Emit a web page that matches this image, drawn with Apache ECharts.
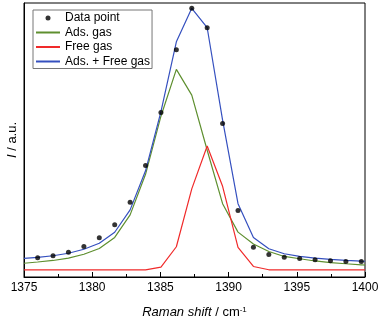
<!DOCTYPE html>
<html>
<head>
<meta charset="utf-8">
<script src="https://cdn.jsdelivr.net/npm/echarts@6/dist/echarts.min.js"></script>
<style>
  html, body { margin: 0; padding: 0; background: #fff; }
  #chart { width: 380px; height: 318px; }
</style>
</head>
<body>
<div id="chart"></div>
<script>
// measured points (Raman shift / cm-1)
const pointShift = [1376.0, 1377.13, 1378.26, 1379.39, 1380.52, 1381.65, 1382.78, 1383.91,
  1385.04, 1386.17, 1387.30, 1388.43, 1389.56, 1390.69, 1391.82, 1392.95, 1394.08,
  1395.21, 1396.34, 1397.47, 1398.60, 1399.73];
const pointIntensity = [19.2, 21.2, 24.8, 30.5, 39.2, 52.2, 74.5, 111.2, 164.2, 226.8, 268.2,
  248.8, 153.2, 66.5, 29.8, 22.5, 19.8, 18.5, 17.2, 16.2, 15.5, 15.5];

// fitted curves
const fitShift = [1375, 1376.0, 1377.13, 1378.26, 1379.39, 1380.52, 1381.65, 1382.78, 1383.91,
  1385.04, 1386.17, 1387.30, 1388.43, 1389.56, 1390.69, 1391.82, 1392.95, 1394.08,
  1395.21, 1396.34, 1397.47, 1398.60, 1399.73, 1400];
const adsGas = [13.7, 15, 16.5, 18.8, 22.7, 28.5, 39.5, 62, 102.5, 160.5, 207.2, 181.5, 126.5,
  73.2, 44.8, 33, 25.5, 20.5, 18.2, 16, 14.3, 13.2, 12.2, 11.8];
const freeGas = [7.2, 7.2, 7.2, 7.2, 7.2, 7.2, 7.2, 7.2, 7.2, 9.8, 30.2, 88, 130.8, 90.5, 29.5,
  10.5, 7.2, 7.2, 7.2, 7.2, 7.2, 7.2, 7.2, 7.2];
const adsFreeGas = [18.6, 19.5, 21.2, 23.7, 27.7, 33.7, 44.7, 67, 106, 165, 234.8, 268.2, 248.8,
  156.5, 73.2, 39.5, 28.2, 23.2, 20.5, 18.8, 17.5, 16.5, 15.8, 15.7];

const xTicks = [1375, 1380, 1385, 1390, 1395, 1400];

const pair = (xs, ys) => xs.map((x, i) => [x, ys[i]]);
const font = "'Liberation Sans', Arial, sans-serif";

const lineSeries = (name, color, ys) => ({
  name: name,
  type: "line",
  data: pair(fitShift, ys),
  symbol: "none",
  lineStyle: { color: color, width: 1.2 },
  itemStyle: { color: color },
  animation: false,
});

// legend entries for the fit lines: line only, no marker
const lineLegend = (name) => ({ name: name, itemStyle: { opacity: 0 } });

const chart = echarts.init(document.getElementById("chart"));
chart.setOption({
  animation: false,
  textStyle: { fontFamily: font },
  grid: {
    left: 24, right: 15, top: 3, bottom: 41,
    outerBoundsMode: "none",
    show: true, borderColor: "#000", borderWidth: 1,
  },
  legend: {
    orient: "vertical",
    left: 33, top: 10,
    padding: [1, 2, 0, 2],
    borderColor: "#777", borderWidth: 1,
    backgroundColor: "#fff",
    itemWidth: 24, itemHeight: 5, itemGap: 0.5,
    textStyle: { fontSize: 12, color: "#000", lineHeight: 14, fontFamily: font },
    data: [
      { name: "Data point", icon: "circle" },
      lineLegend("Ads. gas"),
      lineLegend("Free gas"),
      lineLegend("Ads. + Free gas"),
    ],
  },
  xAxis: {
    type: "value",
    min: 1375, max: 1400, interval: 5,
    name: "{i|Raman shift} / cm{sup|-1}",
    nameLocation: "middle",
    nameGap: 29,
    nameTextStyle: {
      fontSize: 13, color: "#000", fontFamily: font,
      rich: {
        i: { fontStyle: "italic", fontSize: 13, fontFamily: font },
        sup: { fontSize: 8, verticalAlign: "top", fontFamily: font },
      },
    },
    axisLine: { lineStyle: { color: "#000", width: 1 } },
    axisTick: { inside: true, length: 5, lineStyle: { color: "#000" } },
    minorTick: { show: true, splitNumber: 2, length: 3, lineStyle: { color: "#000" } },
    axisLabel: {
      margin: 5, fontSize: 12, color: "#000", fontFamily: font,
      formatter: (v) => (xTicks.indexOf(v) >= 0 ? String(v) : ""),
    },
    splitLine: { show: false },
  },
  yAxis: {
    type: "value",
    min: 0, max: 273.5,
    name: "{i|I} / a.u.",
    nameLocation: "middle",
    nameGap: 5,
    nameTextStyle: {
      fontSize: 13, color: "#000", fontFamily: font,
      rich: { i: { fontStyle: "italic", fontSize: 13, fontFamily: font } },
    },
    axisLine: { show: true, lineStyle: { color: "#000", width: 1 } },
    axisTick: { show: false },
    axisLabel: { show: false },
    splitLine: { show: false },
  },
  series: [
    lineSeries("Ads. gas", "#5e8f2f", adsGas),
    lineSeries("Free gas", "#f02a2a", freeGas),
    lineSeries("Ads. + Free gas", "#3550bf", adsFreeGas),
    {
      name: "Data point",
      type: "scatter",
      data: pair(pointShift, pointIntensity),
      symbol: "circle",
      symbolSize: 5,
      itemStyle: { color: "#000" },
      z: 5,
    },
  ],
});
</script>
</body>
</html>
